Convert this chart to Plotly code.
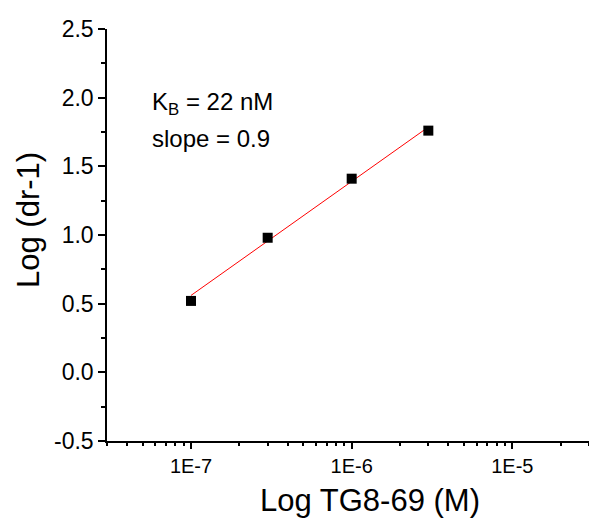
import plotly.graph_objects as go
import numpy as np

# Data
conc_M = [1e-7, 3e-7, 1e-6, 3e-6]
log_dr1 = [0.52, 0.98, 1.41, 1.76]
fit_x = [1e-7, 3e-6]
fit_y = [0.56, 1.786]

x_tickvals = [1e-7, 1e-6, 1e-5]
x_ticktext = ["1E-7", "1E-6", "1E-5"]
y_tickvals = [-0.5, 0.0, 0.5, 1.0, 1.5, 2.0, 2.5]
y_ticktext = ["-0.5", "0.0", "0.5", "1.0", "1.5", "2.0", "2.5"]

FONT = "Arial, Liberation Sans, sans-serif"

W, H = 589, 529
L, R, T, B = 107, 0, 29, 88
pw, ph = W - L - R, H - T - B

def px(x):
    return (x - L) / pw

def py(y):
    return (H - B - y) / ph

minor_x = [k * 10.0 ** n for n in range(-8, -4) for k in range(2, 10)]
minor_x = [v for v in minor_x if 2.9e-8 < v < 3.1e-5]

fig = go.Figure()
fig.add_trace(go.Scatter(x=fit_x, y=fit_y, mode="lines",
                         line=dict(color="red", width=1), showlegend=False))
fig.add_trace(go.Scatter(x=conc_M, y=log_dr1, mode="markers",
                         marker=dict(symbol="square", size=10, color="black"),
                         showlegend=False))

fig.update_layout(
    width=W, height=H,
    margin=dict(l=L, r=R, t=T, b=B),
    paper_bgcolor="white", plot_bgcolor="white",
    font=dict(family=FONT, color="black"),
    xaxis=dict(type="log", range=[np.log10(3e-8), np.log10(3e-5)],
               tickvals=x_tickvals, ticktext=x_ticktext,
               ticks="outside", ticklen=6, tickwidth=1.5, tickcolor="black",
               showline=True, linecolor="black", linewidth=1.5,
               showgrid=False, zeroline=False,
               tickfont=dict(size=20, family=FONT),
               minor=dict(tickvals=minor_x, ticks="outside", ticklen=3,
                          tickwidth=1.5, tickcolor="black", showgrid=False)),
    yaxis=dict(range=[-0.5, 2.5], tickvals=y_tickvals, ticktext=y_ticktext,
               ticks="outside", ticklen=7, tickwidth=1.5, tickcolor="black",
               showline=True, linecolor="black", linewidth=1.5,
               showgrid=False, zeroline=False,
               tickfont=dict(size=23, family=FONT),
               minor=dict(dtick=0.25, ticks="outside", ticklen=4,
                          tickwidth=1.5, tickcolor="black", showgrid=False)),
    annotations=[
        dict(text="Log TG8-69 (M)", xref="paper", yref="paper",
             x=px(370), y=py(500), xanchor="center", yanchor="middle",
             showarrow=False, font=dict(size=31, family=FONT)),
        dict(text="Log (dr-1)", xref="paper", yref="paper",
             x=px(28), y=py(220), xanchor="center", yanchor="middle",
             textangle=-90, showarrow=False, font=dict(size=31, family=FONT)),
        dict(text="K<sub>B</sub> = 22 nM", xref="paper", yref="paper",
             x=px(150), y=py(103), xanchor="left", yanchor="middle",
             showarrow=False, font=dict(size=24, family=FONT)),
        dict(text="slope = 0.9", xref="paper", yref="paper",
             x=px(150), y=py(138), xanchor="left", yanchor="middle",
             showarrow=False, font=dict(size=24, family=FONT)),
    ],
)

fig.write_html("out.html")
